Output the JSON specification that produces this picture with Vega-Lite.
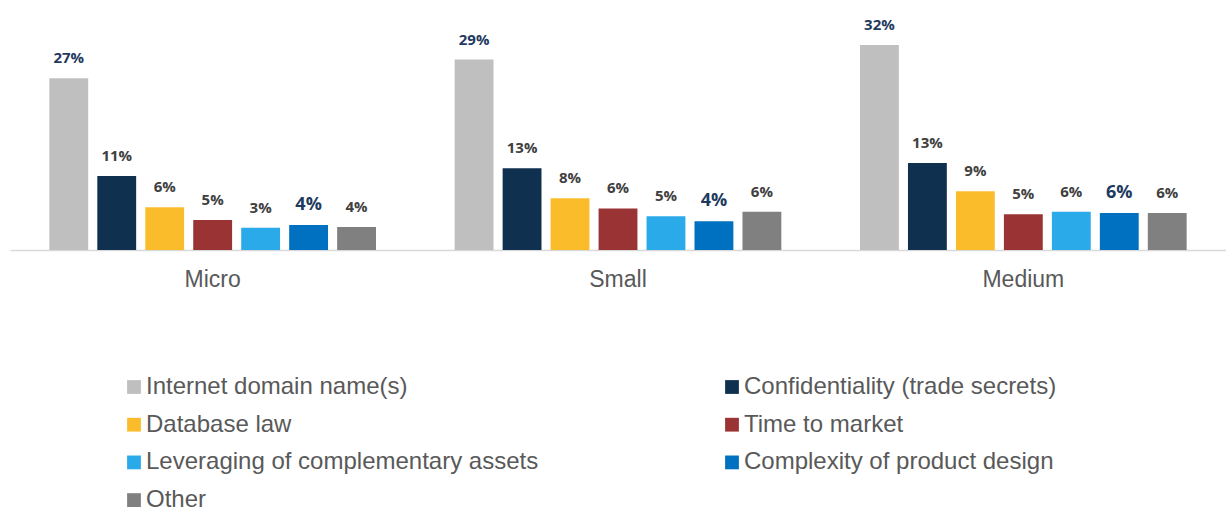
{
  "$schema": "https://vega.github.io/schema/vega-lite/v6.json",
  "width": 1216,
  "height": 230,
  "autosize": {"type": "none"},
  "padding": {"left": 10, "top": 20, "right": 0, "bottom": 260},
  "background": "white",
  "config": {"view": {"stroke": null}},
  "data": {"values": [
    {"size": "Micro", "series": "Internet domain name(s)", "value": 26.9, "label": "27%"},
    {"size": "Micro", "series": "Confidentiality (trade secrets)", "value": 11.6, "label": "11%"},
    {"size": "Micro", "series": "Database law", "value": 6.7, "label": "6%"},
    {"size": "Micro", "series": "Time to market", "value": 4.7, "label": "5%"},
    {"size": "Micro", "series": "Leveraging of complementary assets", "value": 3.5, "label": "3%"},
    {"size": "Micro", "series": "Complexity of product design", "value": 3.9, "label": "4%"},
    {"size": "Micro", "series": "Other", "value": 3.6, "label": "4%"},
    {"size": "Small", "series": "Internet domain name(s)", "value": 29.8, "label": "29%"},
    {"size": "Small", "series": "Confidentiality (trade secrets)", "value": 12.8, "label": "13%"},
    {"size": "Small", "series": "Database law", "value": 8.1, "label": "8%"},
    {"size": "Small", "series": "Time to market", "value": 6.5, "label": "6%"},
    {"size": "Small", "series": "Leveraging of complementary assets", "value": 5.3, "label": "5%"},
    {"size": "Small", "series": "Complexity of product design", "value": 4.5, "label": "4%"},
    {"size": "Small", "series": "Other", "value": 6.0, "label": "6%"},
    {"size": "Medium", "series": "Internet domain name(s)", "value": 32.1, "label": "32%"},
    {"size": "Medium", "series": "Confidentiality (trade secrets)", "value": 13.6, "label": "13%"},
    {"size": "Medium", "series": "Database law", "value": 9.2, "label": "9%"},
    {"size": "Medium", "series": "Time to market", "value": 5.6, "label": "5%"},
    {"size": "Medium", "series": "Leveraging of complementary assets", "value": 6.0, "label": "6%"},
    {"size": "Medium", "series": "Complexity of product design", "value": 5.8, "label": "6%"},
    {"size": "Medium", "series": "Other", "value": 5.8, "label": "6%"}
  ]},
  "encoding": {
    "x": {
      "field": "size", "type": "nominal", "sort": ["Micro", "Small", "Medium"],
      "scale": {"paddingInner": 0, "paddingOuter": 0},
      "axis": {
        "title": null, "labelAngle": 0, "ticks": false, "labelPadding": 18,
        "labelFont": "Liberation Sans", "labelFontSize": 23, "labelColor": "#595959",
        "domainColor": "#d9d9d9", "domainWidth": 1.5
      }
    },
    "xOffset": {
      "field": "series", "type": "nominal",
      "sort": ["Internet domain name(s)", "Confidentiality (trade secrets)", "Database law", "Time to market", "Leveraging of complementary assets", "Complexity of product design", "Other"],
      "scale": {"paddingInner": 0.19, "paddingOuter": 0.82}
    },
    "y": {
      "field": "value", "type": "quantitative",
      "scale": {"domain": [0, 36], "nice": false},
      "axis": null
    }
  },
  "layer": [
    {
      "mark": {"type": "bar"},
      "encoding": {
        "color": {
          "field": "series", "type": "nominal",
          "scale": {
            "domain": ["Internet domain name(s)", "Database law", "Leveraging of complementary assets", "Other", "Confidentiality (trade secrets)", "Time to market", "Complexity of product design"],
            "range": ["#bfbfbf", "#fbbc2c", "#2aaae8", "#808080", "#10304f", "#993334", "#0070c0"]
          },
          "legend": {
            "title": null, "orient": "none", "legendX": 112, "legendY": 355, "padding": 0,
            "columns": 2, "columnPadding": 181, "rowPadding": 13.7,
            "symbolType": "square", "symbolSize": 190, "symbolStrokeWidth": 0,
            "labelFont": "Liberation Sans", "labelFontSize": 24, "labelColor": "#595959",
            "labelLimit": 600, "labelOffset": 0
          }
        }
      }
    },
    {
      "mark": {"type": "text", "baseline": "alphabetic", "dy": -15, "font": "Open Sans", "fontWeight": "bold"},
      "encoding": {
        "text": {"field": "label"},
        "color": {
          "condition": {"test": "datum.series === 'Internet domain name(s)' || datum.series === 'Complexity of product design'", "value": "#1f3a5f"},
          "value": "#404040"
        },
        "size": {
          "condition": {"test": "datum.series === 'Complexity of product design'", "value": 18},
          "value": 15
        }
      }
    }
  ]
}
